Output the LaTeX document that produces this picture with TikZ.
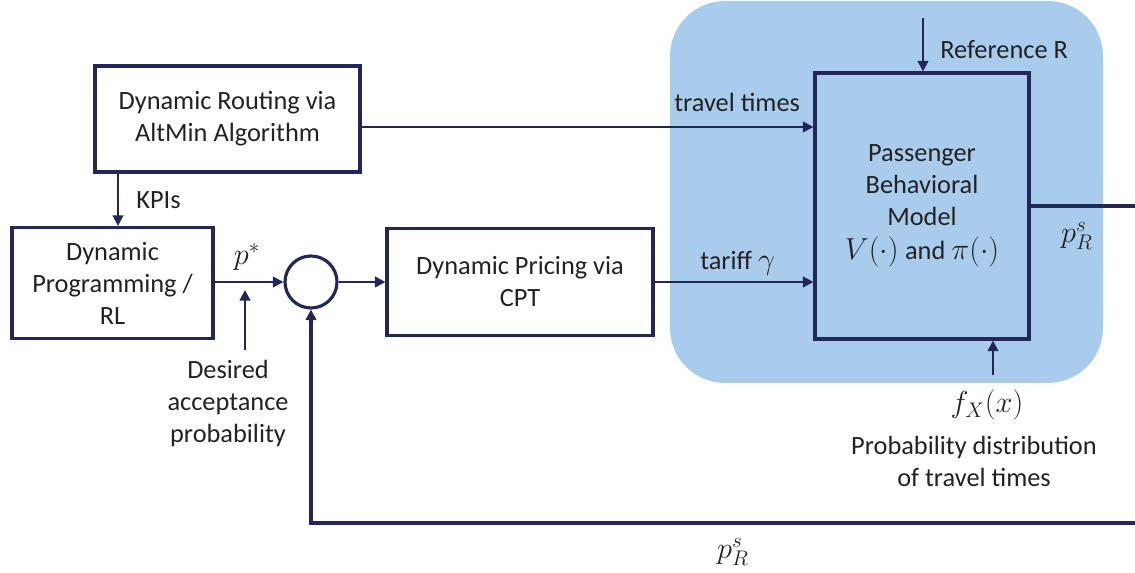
\documentclass[tikz,border=0pt]{standalone}
\usepackage{fontspec}
\setmainfont{Carlito}
\usetikzlibrary{arrows.meta,calc}
\definecolor{navy}{RGB}{35,39,88}
\definecolor{paleblue}{RGB}{169,204,237}
\definecolor{ink}{RGB}{34,34,34}
\tikzset{
  blk/.style={draw=navy,line width=1.8pt,rectangle,align=center,inner sep=2pt,text=ink,font=\fontsize{15}{18.2}\selectfont},
  lbl/.style={text=ink,font=\fontsize{15}{18.2}\selectfont,align=center,inner sep=0pt},
  mlbl/.style={text=ink,font=\fontsize{17}{18}\selectfont,inner sep=0pt},
  arr/.style={draw=navy,line width=1.3pt,-{Triangle[length=6pt,width=6pt]}},
  fb/.style={draw=navy,line width=1.8pt,-{Triangle[length=6pt,width=6pt]}}
}
\begin{document}
\begin{tikzpicture}[x=0.02cm,y=-0.02cm]
\path[use as bounding box] (0,0) rectangle (1135,573);
\clip (0,0) rectangle (1135,573);
% blue background region
\fill[paleblue,rounded corners=1.1cm] (670,1) rectangle (1103,383);
% blocks
\node[blk,minimum width=5.30cm,minimum height=2.12cm] (routing) at (227.5,119) {Dynamic Routing via\\AltMin Algorithm};
\node[blk,minimum width=4.02cm,minimum height=2.22cm] (dp) at (112.5,283) {Dynamic\\Programming /\\RL};
\node[draw=navy,line width=1.8pt,circle,minimum size=1.04cm,inner sep=0pt] (sum) at (311,282) {};
\node[blk,minimum width=5.32cm,minimum height=2.14cm] (pricing) at (520,282) {Dynamic Pricing via\\CPT};
\node[blk,minimum width=4.28cm,minimum height=5.32cm] (pass) at (922,206) {Passenger\\Behavioral\\Model\\[1pt]\fontsize{16}{18}\selectfont$V(\cdot)$ \fontsize{15}{18}\selectfont and \fontsize{16}{18}\selectfont$\pi(\cdot)$};
% free-end coordinates
\coordinate (kp) at (118,0);
\coordinate (refin) at (923,18);
\coordinate (fxin) at (993,375);
\coordinate (desA) at (245,350);
\coordinate (desB) at (245,290);
\coordinate (fbc) at (1140,523);
% connectors
\draw[arr] ([yshift=-0.16cm]routing.east) -- ([yshift=-0.16cm]routing.east -| pass.west);
\draw[arr] (routing.south -| kp) -- (dp.north -| kp);
\draw[arr] (dp.east |- sum.west) -- (sum.west);
\draw[arr] (sum.east) -- (sum.east -| pricing.west);
\draw[arr] (pricing.east) -- (pricing.east -| pass.west);
\draw[arr] (refin) -- (refin |- pass.north);
\draw[arr] (fxin) -- (fxin |- pass.south);
\draw[arr] (desA) -- (desB);
\draw[fb] (pass.east) -- (pass.east -| fbc) -- (fbc) -| (sum.south);
% labels
\node[lbl,anchor=west] (ltt) at (674,102) {travel times};
\node[lbl,anchor=west] (lref) at (940,50) {Reference R};
\node[lbl,anchor=west] (lkpi) at (136,200) {KPIs};
\node[mlbl] (lpstar) at (247,257) {$p^{*}$};
\node[lbl] (ldes) at (228,403) {Desired\\acceptance\\probability};
\node[lbl,anchor=west] (ltar) at (700,263) {tariff \fontsize{16}{18}\selectfont$\gamma$};
\node[mlbl] (lprs1) at (1077,236) {$p_R^s$};
\node[mlbl] (lfx) at (987,405) {$f_X(x)$};
\node[lbl] (lprob) at (974,461) {Probability distribution\\of travel times};
\node[mlbl] (lprs2) at (733,552) {$p_R^s$};
\end{tikzpicture}
\end{document}
